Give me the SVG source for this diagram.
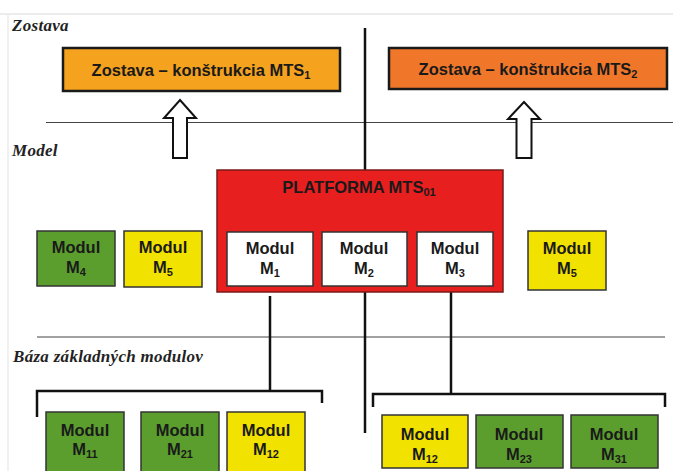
<svg xmlns="http://www.w3.org/2000/svg" width="673" height="471" viewBox="0 0 673 471">
<style>
.lbl{font-family:"Liberation Serif","Times New Roman",serif;font-style:italic;font-weight:bold;font-size:17px;letter-spacing:0.3px;fill:#222}
.t{font-family:"Liberation Sans",Arial,sans-serif;font-weight:bold;font-size:16.5px;fill:#1a1a1a;text-anchor:middle}
.ts{font-size:11px}
.box{stroke:#333;stroke-width:1.5}
.green{fill:#5b9e2e}
.yellow{fill:#f2e200}
.white{fill:#ffffff}
.conn{stroke:#111;stroke-width:2.5;fill:none}
.thin{stroke:#444;stroke-width:1.2;fill:none}
.arrow{fill:#fff;stroke:#111;stroke-width:2}
</style>
<rect width="673" height="471" fill="#fff"/>
<line x1="0" y1="14" x2="673" y2="14" stroke="#e6e6e6" stroke-width="1.5"/>
<line x1="8" y1="14" x2="8" y2="471" stroke="#ececec" stroke-width="1.5"/>
<text class="lbl" x="12" y="31">Zostava</text>
<text class="lbl" x="12" y="156">Model</text>
<text class="lbl" x="13" y="362">Báza základných modulov</text>
<g id="separators">
<line class="thin" x1="46" y1="122.5" x2="673" y2="122.5"/>
<line class="thin" x1="37" y1="337" x2="665" y2="337"/>
</g>
<g id="connectors">
<line class="conn" x1="365" y1="28" x2="365" y2="170"/>
<line class="conn" x1="365" y1="292" x2="365" y2="433"/>
<line class="conn" x1="270" y1="296" x2="270" y2="391"/>
<line class="conn" x1="451" y1="286" x2="451" y2="394"/>
<path class="conn" d="M37,417 V391 H322 V403"/>
<path class="conn" d="M373,407 V394 H665 V407"/>
<path class="arrow" d="M180,100 L196,118 L187,118 L187,158 L173,158 L173,118 L164,118 Z"/>
<path class="arrow" d="M524,102 L540,119 L531.5,119 L531.5,158 L516.5,158 L516.5,119 L508,119 Z"/>
</g>
<g id="mts1">
<rect x="63" y="48" width="277" height="43" fill="#f5a21f" stroke="#1a1a1a" stroke-width="2.5"/>
<text class="t" x="201" y="76" font-size="18">Zostava – konštrukcia MTS<tspan class="ts" dy="3">1</tspan></text>
</g>
<g id="mts2">
<rect x="389" y="48" width="278" height="41" fill="#f0762a" stroke="#1a1a1a" stroke-width="2.5"/>
<text class="t" x="528" y="75" font-size="18">Zostava – konštrukcia MTS<tspan class="ts" dy="3">2</tspan></text>
</g>
<g id="platform">
<rect x="217" y="170" width="286" height="122" fill="#e81f1f" stroke="#7a1a1a" stroke-width="1.5"/>
<text class="t" x="359" y="193" font-size="17">PLATFORMA MTS<tspan class="ts" dy="3">01</tspan></text>
</g>
<g id="m1"><rect class="box white" x="227" y="232" width="86" height="54"/><text class="t" x="270" y="254">Modul</text><text class="t" x="270" y="274">M<tspan class="ts" dy="3">1</tspan></text></g>
<g id="m2"><rect class="box white" x="322" y="232" width="85" height="54"/><text class="t" x="364" y="254">Modul</text><text class="t" x="364" y="274">M<tspan class="ts" dy="3">2</tspan></text></g>
<g id="m3"><rect class="box white" x="417" y="232" width="76" height="54"/><text class="t" x="455" y="254">Modul</text><text class="t" x="455" y="274">M<tspan class="ts" dy="3">3</tspan></text></g>
<g id="m4"><rect class="box green" x="37" y="231" width="78" height="55"/><text class="t" x="76" y="253">Modul</text><text class="t" x="76" y="273">M<tspan class="ts" dy="3">4</tspan></text></g>
<g id="m5a"><rect class="box yellow" x="124" y="231" width="78" height="56"/><text class="t" x="163" y="253">Modul</text><text class="t" x="163" y="273">M<tspan class="ts" dy="3">5</tspan></text></g>
<g id="m5b"><rect class="box yellow" x="528" y="231" width="78" height="59"/><text class="t" x="567" y="254">Modul</text><text class="t" x="567" y="274">M<tspan class="ts" dy="3">5</tspan></text></g>
<g id="m11"><rect class="box green" x="46" y="412" width="78" height="64"/><text class="t" x="85" y="436">Modul</text><text class="t" x="85" y="455">M<tspan class="ts" dy="3">11</tspan></text></g>
<g id="m21"><rect class="box green" x="141" y="412" width="78" height="64"/><text class="t" x="180" y="436">Modul</text><text class="t" x="180" y="455">M<tspan class="ts" dy="3">21</tspan></text></g>
<g id="m12a"><rect class="box yellow" x="227" y="412" width="78" height="64"/><text class="t" x="266" y="436">Modul</text><text class="t" x="266" y="455">M<tspan class="ts" dy="3">12</tspan></text></g>
<g id="m12b"><rect class="box yellow" x="382" y="415" width="86" height="53"/><text class="t" x="425" y="440">Modul</text><text class="t" x="425" y="460">M<tspan class="ts" dy="3">12</tspan></text></g>
<g id="m23"><rect class="box green" x="476" y="415" width="87" height="53"/><text class="t" x="519" y="440">Modul</text><text class="t" x="519" y="460">M<tspan class="ts" dy="3">23</tspan></text></g>
<g id="m31"><rect class="box green" x="571" y="415" width="87" height="53"/><text class="t" x="614" y="440">Modul</text><text class="t" x="614" y="460">M<tspan class="ts" dy="3">31</tspan></text></g>
</svg>
